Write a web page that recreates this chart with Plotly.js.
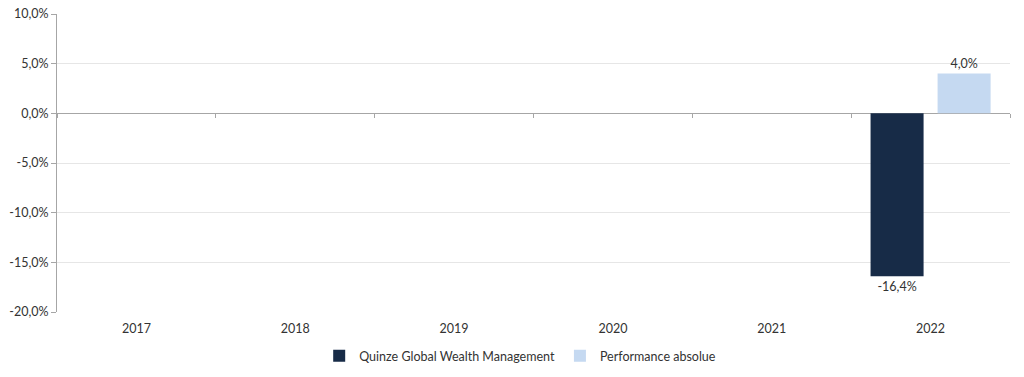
<!DOCTYPE html>
<html>
<head>
<meta charset="utf-8">
<script src="https://cdn.plot.ly/plotly-3.0.1.min.js"></script>
<style>html,body{margin:0;padding:0;background:#fff;}#chart{width:1024px;height:377px;}</style>
</head>
<body>
<div id="chart"></div>
<script>
var years = ['2017', '2018', '2019', '2020', '2021', '2022'];
var quinze = [null, null, null, null, null, -0.164];
var performance = [null, null, null, null, null, 0.040];
var seriesNames = ['Quinze Global Wealth Management', 'Performance absolue'];
var yTicks = [-0.20, -0.15, -0.10, -0.05, 0, 0.05, 0.10];

function pct(v) {
  return (v * 100).toFixed(1).replace('.', ',') + '%';
}
var yTickText = yTicks.map(pct);

var font = {family: 'Lato, "Open Sans", sans-serif', size: 12.5, color: '#333333'};

var traces = [
  {
    type: 'bar', name: seriesNames[0], x: years, y: quinze,
    marker: {color: '#172b47'},
    text: quinze.map(function(v){return v === null ? '' : pct(v);}),
    textposition: 'outside', cliponaxis: false,
    textfont: font, hoverinfo: 'x+y'
  },
  {
    type: 'bar', name: seriesNames[1], x: years, y: performance,
    marker: {color: '#c5d9f1'},
    text: performance.map(function(v){return v === null ? '' : pct(v);}),
    textposition: 'outside', cliponaxis: false,
    textfont: font, hoverinfo: 'x+y'
  },
  {
    type: 'scatter', mode: 'markers', x: years, y: years.map(function(){return null;}),
    xaxis: 'x2', showlegend: false, hoverinfo: 'skip', marker: {opacity: 0}
  }
];

var layout = {
  width: 1024, height: 377,
  margin: {l: 57, r: 14, t: 14, b: 65},
  paper_bgcolor: '#ffffff', plot_bgcolor: '#ffffff',
  font: font,
  separators: ',.',
  barmode: 'group',
  bargap: 0.156,
  bargroupgap: 0.209,
  showlegend: true,
  legend: {
    orientation: 'h', xref: 'container', yref: 'container',
    x: 0.508, xanchor: 'center', y: 0.0557, yanchor: 'middle',
    font: font, itemwidth: 30, traceorder: 'normal'
  },
  xaxis: {
    type: 'category', showgrid: false, showline: false, ticks: '', zeroline: false,
    tickfont: font, fixedrange: true, automargin: false, ticklabelstandoff: 7
  },
  xaxis2: {
    type: 'category', overlaying: 'x', anchor: 'free', position: 2/3,
    side: 'bottom', showticklabels: false, showgrid: false, showline: false, zeroline: false,
    tickson: 'boundaries', ticks: 'outside', ticklen: 4, tickcolor: '#a6a6a6', tickwidth: 1,
    matches: 'x'
  },
  yaxis: {
    range: [-0.20, 0.10], tickvals: yTicks, ticktext: yTickText,
    showgrid: true, gridcolor: '#e6e6e6', gridwidth: 1,
    zeroline: true, zerolinecolor: '#a6a6a6', zerolinewidth: 1,
    showline: true, linecolor: '#a6a6a6', linewidth: 1,
    ticks: 'outside', ticklen: 5, tickcolor: '#a6a6a6',
    tickfont: font, fixedrange: true, automargin: false
  }
};

Plotly.newPlot('chart', traces, layout, {displayModeBar: false, staticPlot: true});
</script>
</body>
</html>
